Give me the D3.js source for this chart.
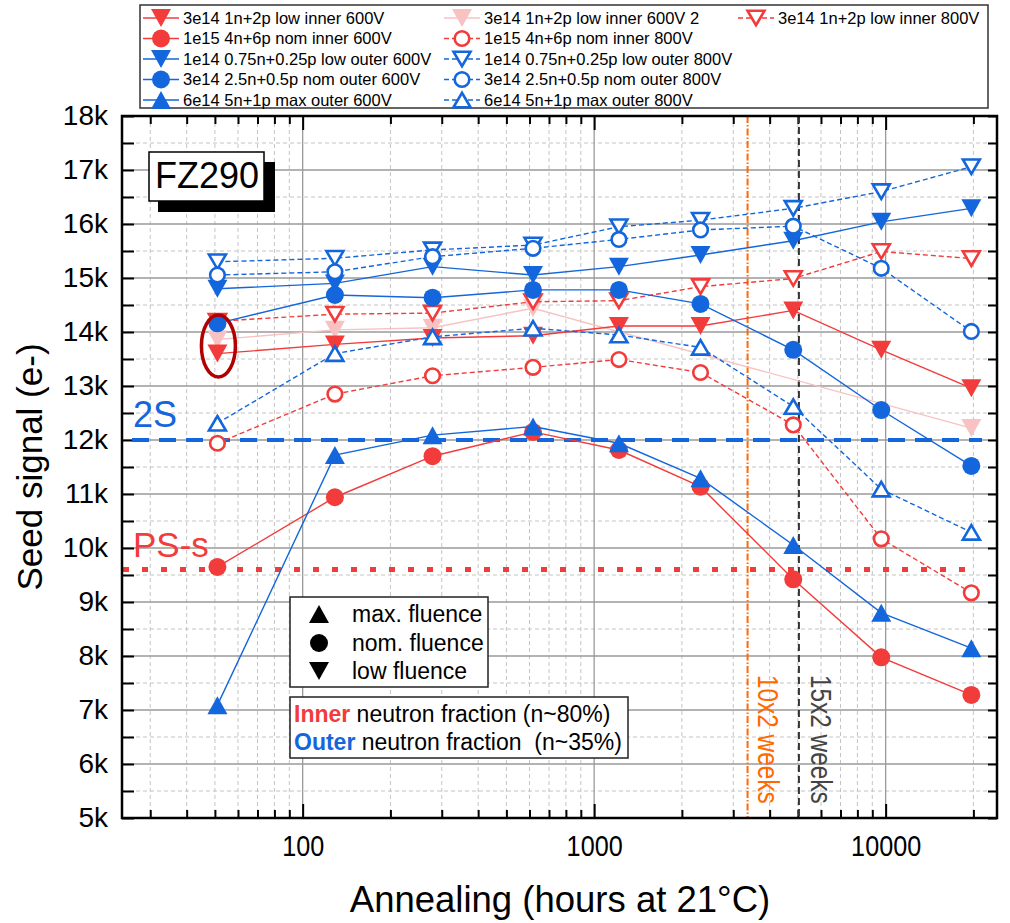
<!DOCTYPE html>
<html>
<head>
<meta charset="utf-8">
<script src="https://d3js.org/d3.v7.min.js"></script>
<style>
  body { margin: 0; background: #fff; }
  text { font-family: "Liberation Sans", Arial, sans-serif; }
</style>
</head>
<body>
<script>
// annealing times (hours at 21C)
var hours = [51, 129, 279, 617, 1216, 2317, 4820, 9660, 19680];

// seed signal (e-) per sample
var lowInner600  = [13600, 13770, 13890, 13930, 14110, 14110, 14400, 13670, 12960];
var lowInner600b = [13860, 14040, 14080, 14440, null, null, null, null, 12220];
var lowInner800  = [14200, 14330, 14350, 14560, 14580, 14840, 14990, 15490, 15360];
var nomInner600  = [9650, 10940, 11700, 12150, 11815, 11135, 9420, 7975, 7280];
var nomInner800  = [11940, 12850, 13190, 13345, 13490, 13250, 12280, 10170, 9170];
var lowOuter600  = [14800, 14900, 15210, 15055, 15210, 15425, 15690, 16040, 16290];
var lowOuter800  = [15300, 15365, 15520, 15610, 15950, 16070, 16290, 16600, 17060];
var nomOuter600  = [14160, 14685, 14635, 14780, 14780, 14520, 13670, 12555, 11520];
var nomOuter800  = [15055, 15115, 15395, 15550, 15715, 15890, 15960, 15180, 14010];
var maxOuter600  = [7090, 11720, 12090, 12250, 11940, 11290, 10055, 8800, 8145];
var maxOuter800  = [12310, 13600, 13910, 14070, 13945, 13715, 12620, 11090, 10290];

var yTicks = [5000, 6000, 7000, 8000, 9000, 10000, 11000, 12000, 13000, 14000, 15000, 16000, 17000, 18000];
var yMinor = [5500, 6500, 7500, 8500, 9500, 10500, 11500, 12500, 13500, 14500, 15500, 16500, 17500];
var xTicks = [100, 1000, 10000];
var xMinor = [30, 40, 50, 60, 70, 80, 90, 200, 300, 400, 500, 600, 700, 800, 900,
              2000, 3000, 4000, 5000, 6000, 7000, 8000, 9000, 20000];

var level2S = 12000, levelPS = 9600;
var weeks10 = 3360, weeks15 = 5040;

var RED = '#f23b3b', BLUE = '#1366db', PINK = '#f8c2c2';

var series = [
  {name: '3e14 1n+2p low inner 600V 2', v: lowInner600b, c: PINK, shape: 'down', fill: true, dash: false, col: 1, row: 0},
  {name: '3e14 1n+2p low inner 600V', v: lowInner600, c: RED, shape: 'down', fill: true, dash: false, col: 0, row: 0},
  {name: '3e14 1n+2p low inner 800V', v: lowInner800, c: RED, shape: 'down', fill: false, dash: true, col: 2, row: 0},
  {name: '1e15 4n+6p nom inner 600V', v: nomInner600, c: RED, shape: 'circle', fill: true, dash: false, col: 0, row: 1},
  {name: '1e15 4n+6p nom inner 800V', v: nomInner800, c: RED, shape: 'circle', fill: false, dash: true, col: 1, row: 1},
  {name: '1e14 0.75n+0.25p low outer 600V', v: lowOuter600, c: BLUE, shape: 'down', fill: true, dash: false, col: 0, row: 2},
  {name: '1e14 0.75n+0.25p low outer 800V', v: lowOuter800, c: BLUE, shape: 'down', fill: false, dash: true, col: 1, row: 2},
  {name: '3e14 2.5n+0.5p nom outer 600V', v: nomOuter600, c: BLUE, shape: 'circle', fill: true, dash: false, col: 0, row: 3},
  {name: '3e14 2.5n+0.5p nom outer 800V', v: nomOuter800, c: BLUE, shape: 'circle', fill: false, dash: true, col: 1, row: 3},
  {name: '6e14 5n+1p max outer 600V', v: maxOuter600, c: BLUE, shape: 'up', fill: true, dash: false, col: 0, row: 4},
  {name: '6e14 5n+1p max outer 800V', v: maxOuter800, c: BLUE, shape: 'up', fill: false, dash: true, col: 1, row: 4}
];

var width = 1010, height = 923;
var pLeft = 122, pRight = 997, pTop = 116, pBottom = 818;

var svg = d3.select('body').append('svg')
  .attr('width', width).attr('height', height);

var x = d3.scaleLog().domain([24, 24100]).range([pLeft, pRight]);
var y = d3.scaleLinear().domain([5000, 18000]).range([pBottom, pTop]);

// squeeze a text horizontally, like a narrow font
function narrow(sel, k) {
  sel.each(function() {
    var w = this.getComputedTextLength();
    d3.select(this).attr('textLength', w * k).attr('lengthAdjust', 'spacingAndGlyphs');
  });
}

// grid
var grid = svg.append('g');
grid.selectAll('.ym').data(yMinor).enter().append('line')
  .attr('x1', pLeft).attr('x2', pRight).attr('y1', d => y(d)).attr('y2', d => y(d))
  .attr('stroke', '#c4c4c4').attr('stroke-width', 1).attr('stroke-dasharray', '4,3');
grid.selectAll('.xm').data(xMinor).enter().append('line')
  .attr('y1', pTop).attr('y2', pBottom).attr('x1', d => x(d)).attr('x2', d => x(d))
  .attr('stroke', '#c4c4c4').attr('stroke-width', 1).attr('stroke-dasharray', '4,3');
grid.selectAll('.yM').data(yTicks).enter().append('line')
  .attr('x1', pLeft).attr('x2', pRight).attr('y1', d => y(d)).attr('y2', d => y(d))
  .attr('stroke', '#9a9a9a').attr('stroke-width', 1.3);
grid.selectAll('.xM').data(xTicks).enter().append('line')
  .attr('y1', pTop).attr('y2', pBottom).attr('x1', d => x(d)).attr('x2', d => x(d))
  .attr('stroke', '#9a9a9a').attr('stroke-width', 1.3);

// axes (ticks point inwards)
function noDomain(g) { g.select('.domain').remove(); g.selectAll('line').attr('stroke', '#000').attr('stroke-width', 2); }

svg.append('g').attr('transform', 'translate(' + pLeft + ',0)')
  .call(d3.axisLeft(y).tickValues(yTicks.concat(yMinor)).tickSize(-12).tickPadding(14)
    .tickFormat(d => d % 1000 === 0 ? (d / 1000) + 'k' : ''))
  .call(noDomain)
  .selectAll('text').attr('font-size', 28).attr('fill', '#000')
  .attr('font-family', '"Liberation Sans", Arial, sans-serif');

svg.append('g').attr('transform', 'translate(' + pRight + ',0)')
  .call(d3.axisRight(y).tickValues(yTicks.concat(yMinor)).tickSize(-9).tickFormat(''))
  .call(noDomain);

svg.append('g').attr('transform', 'translate(0,' + pBottom + ')')
  .call(d3.axisBottom(x).tickValues(xTicks).tickSize(-14).tickPadding(17).tickFormat(d3.format('d')))
  .call(noDomain)
  .selectAll('text').attr('font-size', 30).attr('fill', '#000')
  .attr('font-family', '"Liberation Sans", Arial, sans-serif')
  .call(narrow, 0.84);
svg.append('g').attr('transform', 'translate(0,' + pBottom + ')')
  .call(d3.axisBottom(x).tickValues(xMinor).tickSize(-8).tickFormat(''))
  .call(noDomain);
svg.append('g').attr('transform', 'translate(0,' + pTop + ')')
  .call(d3.axisTop(x).tickValues(xTicks).tickSize(-14).tickFormat(''))
  .call(noDomain);
svg.append('g').attr('transform', 'translate(0,' + pTop + ')')
  .call(d3.axisTop(x).tickValues(xMinor).tickSize(-8).tickFormat(''))
  .call(noDomain);

// reference lines
svg.append('line').attr('x1', pLeft + 10).attr('x2', pRight - 15)
  .attr('y1', y(level2S)).attr('y2', y(level2S))
  .attr('stroke', BLUE).attr('stroke-width', 4).attr('stroke-dasharray', '17,10');
svg.append('line').attr('x1', pLeft + 1).attr('x2', pRight - 24)
  .attr('y1', y(levelPS)).attr('y2', y(levelPS))
  .attr('stroke', RED).attr('stroke-width', 5).attr('stroke-dasharray', '6,13');
svg.append('line').attr('x1', x(weeks10)).attr('x2', x(weeks10)).attr('y1', pTop).attr('y2', pBottom)
  .attr('stroke', '#ff6a00').attr('stroke-width', 2).attr('stroke-dasharray', '7,2,1.5,2');
svg.append('line').attr('x1', x(weeks15)).attr('x2', x(weeks15)).attr('y1', pTop).attr('y2', pBottom)
  .attr('stroke', '#333').attr('stroke-width', 2).attr('stroke-dasharray', '7,4');

// markers
function markerPath(shape, fill) {
  var w = fill ? 20 : 17, h = fill ? 18 : 14.5;
  if (shape === 'down') return 'M' + (-w / 2) + ',' + (-h / 2) + 'L' + (w / 2) + ',' + (-h / 2) + 'L0,' + (h / 2) + 'Z';
  if (shape === 'up') return 'M' + (-w / 2) + ',' + (h / 2) + 'L' + (w / 2) + ',' + (h / 2) + 'L0,' + (-h / 2) + 'Z';
  return null;
}
function drawMarker(g, s) {
  if (s.shape === 'circle') {
    g.append('circle').attr('r', s.fill ? 9 : 7.3)
      .attr('fill', s.fill ? s.c : '#fff').attr('stroke', s.c)
      .attr('stroke-width', s.fill ? 0 : 2.6);
  } else {
    g.append('path').attr('d', markerPath(s.shape, s.fill))
      .attr('fill', s.fill ? s.c : '#fff').attr('stroke', s.c)
      .attr('stroke-width', s.fill ? 0 : 2.6).attr('stroke-linejoin', 'miter');
  }
}

var line = d3.line().x(d => x(d[0])).y(d => y(d[1]));
var plot = svg.append('g');
series.forEach(function(s) {
  var pts = hours.map((h, i) => [h, s.v[i]]).filter(p => p[1] != null);
  plot.append('path').attr('d', line(pts)).attr('fill', 'none')
    .attr('stroke', s.c).attr('stroke-width', 1.4)
    .attr('stroke-dasharray', s.dash ? '5,3' : null);
  pts.forEach(function(p) {
    var g = plot.append('g').attr('transform', 'translate(' + x(p[0]) + ',' + y(p[1]) + ')');
    drawMarker(g, s);
  });
});

// frame
svg.append('rect').attr('x', pLeft).attr('y', pTop).attr('width', pRight - pLeft).attr('height', pBottom - pTop)
  .attr('fill', 'none').attr('stroke', '#000').attr('stroke-width', 2.5);

// labels inside plot
svg.append('text').attr('x', 133).attr('y', 427).attr('font-size', 36).attr('fill', BLUE).text('2S');
svg.append('text').attr('x', 133).attr('y', 557).attr('font-size', 35).attr('fill', RED).text('PS-s');

svg.append('rect').attr('x', 158).attr('y', 162).attr('width', 117).attr('height', 50).attr('fill', '#000');
svg.append('rect').attr('x', 149).attr('y', 152).attr('width', 115).attr('height', 49)
  .attr('fill', '#fff').attr('stroke', '#000').attr('stroke-width', 1.5);
svg.append('text').attr('x', 155).attr('y', 188).attr('font-size', 36).attr('fill', '#000').text('FZ290');

svg.append('ellipse').attr('cx', x(hours[0]) + 1).attr('cy', 346).attr('rx', 17).attr('ry', 31)
  .attr('fill', 'none').attr('stroke', '#b00000').attr('stroke-width', 3.5);

svg.append('text').attr('font-size', 29).attr('fill', '#ff6a00')
  .attr('transform', 'translate(' + (x(weeks10) + 10) + ',675) rotate(90)').text('10x2 weeks')
  .call(narrow, 0.84);
svg.append('text').attr('font-size', 29).attr('fill', '#444')
  .attr('transform', 'translate(' + (x(weeks15) + 12) + ',675) rotate(90)').text('15x2 weeks')
  .call(narrow, 0.84);

// symbol legend
var symShapes = [['up', 'max. fluence'], ['circle', 'nom. fluence'], ['down', 'low fluence']];
var symRows = [614, 643, 671];
svg.append('rect').attr('x', 290).attr('y', 597).attr('width', 198).attr('height', 90)
  .attr('fill', '#fff').attr('stroke', '#222').attr('stroke-width', 1.5);
symShapes.forEach(function(d, i) {
  var g = svg.append('g').attr('transform', 'translate(319,' + symRows[i] + ')');
  drawMarker(g, {shape: d[0], fill: true, c: '#000'});
  svg.append('text').attr('x', 352).attr('y', symRows[i]).attr('dy', '0.36em')
    .attr('font-size', 23).attr('fill', '#000').text(d[1]);
});

svg.append('rect').attr('x', 290).attr('y', 697).attr('width', 338).attr('height', 61)
  .attr('fill', '#fff').attr('stroke', '#222').attr('stroke-width', 1.5);
var t1 = svg.append('text').attr('x', 294).attr('y', 722).attr('font-size', 23).attr('fill', '#000');
t1.append('tspan').attr('font-weight', 'bold').attr('fill', RED).text('Inner');
t1.append('tspan').text(' neutron fraction (n~80%)');
var t2 = svg.append('text').attr('x', 294).attr('y', 750).attr('font-size', 23).attr('fill', '#000')
  .style('white-space', 'pre');
t2.append('tspan').attr('font-weight', 'bold').attr('fill', BLUE).text('Outer');
t2.append('tspan').text(' neutron fraction  (n~35%)');

// series legend
svg.append('rect').attr('x', 140).attr('y', 5).attr('width', 848).attr('height', 103)
  .attr('fill', '#fff').attr('stroke', '#333').attr('stroke-width', 1.5);
var legCols = [161, 462, 756];
var legRows = [18, 38.5, 59, 79.5, 100];
series.forEach(function(s) {
  var cx = legCols[s.col], cy = legRows[s.row];
  svg.append('line').attr('x1', cx - 18).attr('x2', cx + 18).attr('y1', cy).attr('y2', cy)
    .attr('stroke', s.c).attr('stroke-width', 1.4).attr('stroke-dasharray', s.dash ? '5,3' : null);
  var g = svg.append('g').attr('transform', 'translate(' + cx + ',' + cy + ')');
  drawMarker(g, s);
  svg.append('text').attr('x', cx + 22).attr('y', cy).attr('dy', '0.36em')
    .attr('font-size', 16.5).attr('fill', '#000').text(s.name);
});

// axis titles
svg.append('text').attr('transform', 'translate(42,' + ((pTop + pBottom) / 2) + ') rotate(-90)')
  .attr('text-anchor', 'middle').attr('font-size', 35).attr('fill', '#000').text('Seed signal (e-)');
svg.append('text').attr('x', 560).attr('y', 912).attr('text-anchor', 'middle')
  .attr('font-size', 36.5).attr('fill', '#000').text('Annealing (hours at 21°C)');
</script>
</body>
</html>
